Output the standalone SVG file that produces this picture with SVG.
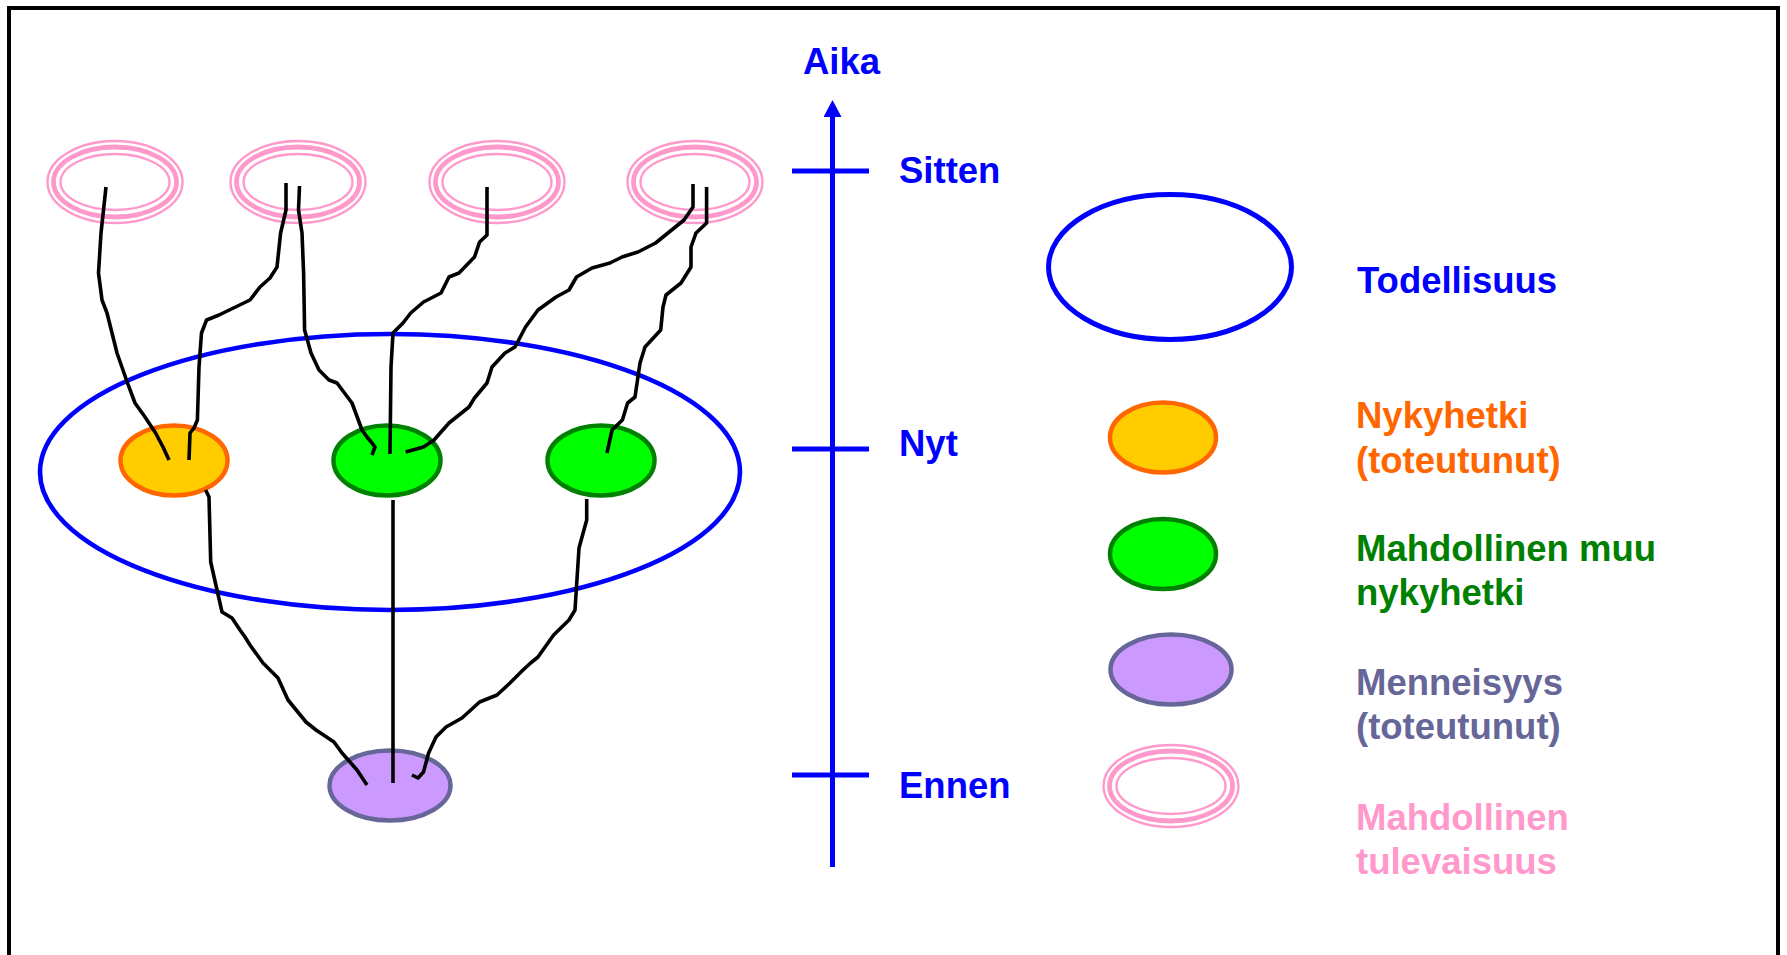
<svg xmlns="http://www.w3.org/2000/svg" width="1787" height="955" viewBox="0 0 1787 955">
<style>
.lbl{font-family:"Liberation Sans",Arial,sans-serif;font-weight:bold;font-size:36.5px}
.blue{fill:#0000FF}
.orange{fill:#FF6600}
.green{fill:#008000}
.slate{fill:#666699}
.pink{fill:#FF99CC}
.cur{fill:#FFCC00;stroke:#FF6600;stroke-width:4.5}
.alt{fill:#00FF00;stroke:#008000;stroke-width:4.5}
.past{fill:#CC99FF;stroke:#666699;stroke-width:4.5}
.ring{fill:none;stroke:#FF99CC}
.wire{fill:none;stroke:#000;stroke-width:3.6;stroke-linejoin:round;stroke-linecap:butt}
.axis{stroke:#0000FF;stroke-width:5;fill:none}
</style>
<defs>
<g id="future">
<ellipse cx="0" cy="0" rx="67.5" ry="41" class="ring" stroke-width="2.4"/>
<ellipse cx="0" cy="0" rx="61.5" ry="35" class="ring" stroke-width="4.8"/>
<ellipse cx="0" cy="0" rx="54.5" ry="28" class="ring" stroke-width="2.4"/>
</g>
<marker id="arr" markerWidth="18" markerHeight="17" refX="9" refY="17" orient="0" markerUnits="userSpaceOnUse">
<path d="M0,17 L9,0 L18,17 Z" fill="#0000FF"/>
</marker>
</defs>
<rect x="0" y="0" width="1787" height="955" fill="#fff"/>
<rect id="frame" x="9" y="8" width="1769" height="960" fill="none" stroke="#000" stroke-width="4"/>

<g id="reality">
<ellipse cx="390" cy="472" rx="350" ry="138" fill="none" stroke="#0000FF" stroke-width="4.6"/>
</g>
<g id="future1"><use href="#future" x="115" y="182"/></g>
<g id="future2"><use href="#future" x="298" y="182"/></g>
<g id="future3"><use href="#future" x="497" y="182"/></g>
<g id="future4"><use href="#future" x="695" y="182"/></g>
<g id="present"><ellipse cx="174" cy="460.5" rx="53.5" ry="35" class="cur"/></g>
<g id="altpresent1"><ellipse cx="387" cy="460.5" rx="53.5" ry="35" class="alt"/></g>
<g id="altpresent2"><ellipse cx="601" cy="460.5" rx="53.5" ry="35" class="alt"/></g>
<g id="past"><ellipse cx="390" cy="785.5" rx="60.5" ry="35" class="past"/></g>

<g id="connectors">
<path class="wire" d="M106,187 L101,233 L98.5,273 L102,300 L107,313 L117,353 L127.5,383 L135,403 L145,417 L155.6,433 L163,447 L169,460"/>
<path class="wire" d="M286,183 L286,210 L280.6,233 L277,267 L270,278 L260,287 L250,300 L219,315 L206.6,320 L201.5,333 L199,367 L197.4,420 L194,428 L190,433 L189,460"/>
<path class="wire" d="M299.5,186 L298.5,210 L302,233 L303.6,273 L304.6,330 L311,353 L319,370 L329,380 L337,383 L352,403 L362,430 L367,437 L372,443 L375,447 L372,455"/>
<path class="wire" d="M487,187 L487,235 L479.6,242 L474.5,257 L459,273 L449,277 L441,293 L423.5,302 L410.7,313 L403,323 L393,333 L391,367 L390,454"/>
<path class="wire" d="M693,184 L693,207 L684,220 L663,237 L655.6,243 L638,252 L622,257 L610,263 L592,268 L576.5,277 L569,290 L556,297 L538,310 L525.5,327 L515,347 L505,353 L492,367 L487,383 L474.5,398 L469,407 L449,423 L434,440 L423.5,447 L405.6,452"/>
<path class="wire" d="M706.6,187 L706.6,223 L696,233 L691,247 L691,267 L681,283 L666,295 L663,307 L660.7,330 L645,347 L640,363 L635,397 L627.6,403 L622.4,420 L612,430 L607,453"/>
<path class="wire" d="M205.6,490 L209,497 L210.7,562 L222,612 L232,618 L240,630 L245,637 L250,645 L263,663 L278,678 L288,700 L306,722 L316,730 L334,742 L342,753 L357,770 L367,785"/>
<path class="wire" d="M393,500 L393,783"/>
<path class="wire" d="M586.7,499 L586.7,520 L579,548 L575,610 L569,620 L553.6,635 L538,657 L530.6,663 L523,670 L510,683 L497,695 L479.6,702 L462,718 L446,727 L436,737 L428.6,753 L423.5,772 L418,778 L412,775"/>
</g>

<g id="timeline">
<line class="axis" x1="832.5" y1="867" x2="832.5" y2="117" marker-end="url(#arr)"/>
<line class="axis" x1="792" y1="171" x2="869" y2="171"/>
<line class="axis" x1="792" y1="449" x2="869" y2="449"/>
<line class="axis" x1="792" y1="775" x2="869" y2="775"/>
<text class="lbl blue" x="803" y="74">Aika</text>
<text class="lbl blue" x="899" y="183">Sitten</text>
<text class="lbl blue" x="899" y="456">Nyt</text>
<text class="lbl blue" x="899" y="798">Ennen</text>
</g>

<g id="legend-reality">
<ellipse cx="1170" cy="267" rx="121.5" ry="72.5" fill="none" stroke="#0000FF" stroke-width="5"/>
<text class="lbl blue" x="1357" y="293">Todellisuus</text>
</g>
<g id="legend-present">
<ellipse cx="1163" cy="437.5" rx="53" ry="35" class="cur"/>
<text class="lbl orange" x="1356" y="428">Nykyhetki</text>
<text class="lbl orange" x="1356" y="473">(toteutunut)</text>
</g>
<g id="legend-alt">
<ellipse cx="1163" cy="554" rx="53" ry="35" class="alt"/>
<text class="lbl green" x="1356" y="561">Mahdollinen muu</text>
<text class="lbl green" x="1356" y="605">nykyhetki</text>
</g>
<g id="legend-past">
<ellipse cx="1171" cy="669.5" rx="60.5" ry="35" class="past"/>
<text class="lbl slate" x="1356" y="695">Menneisyys</text>
<text class="lbl slate" x="1356" y="739">(toteutunut)</text>
</g>
<g id="legend-future">
<use href="#future" x="1171" y="786"/>
<text class="lbl pink" x="1356" y="830">Mahdollinen</text>
<text class="lbl pink" x="1356" y="874">tulevaisuus</text>
</g>
</svg>
